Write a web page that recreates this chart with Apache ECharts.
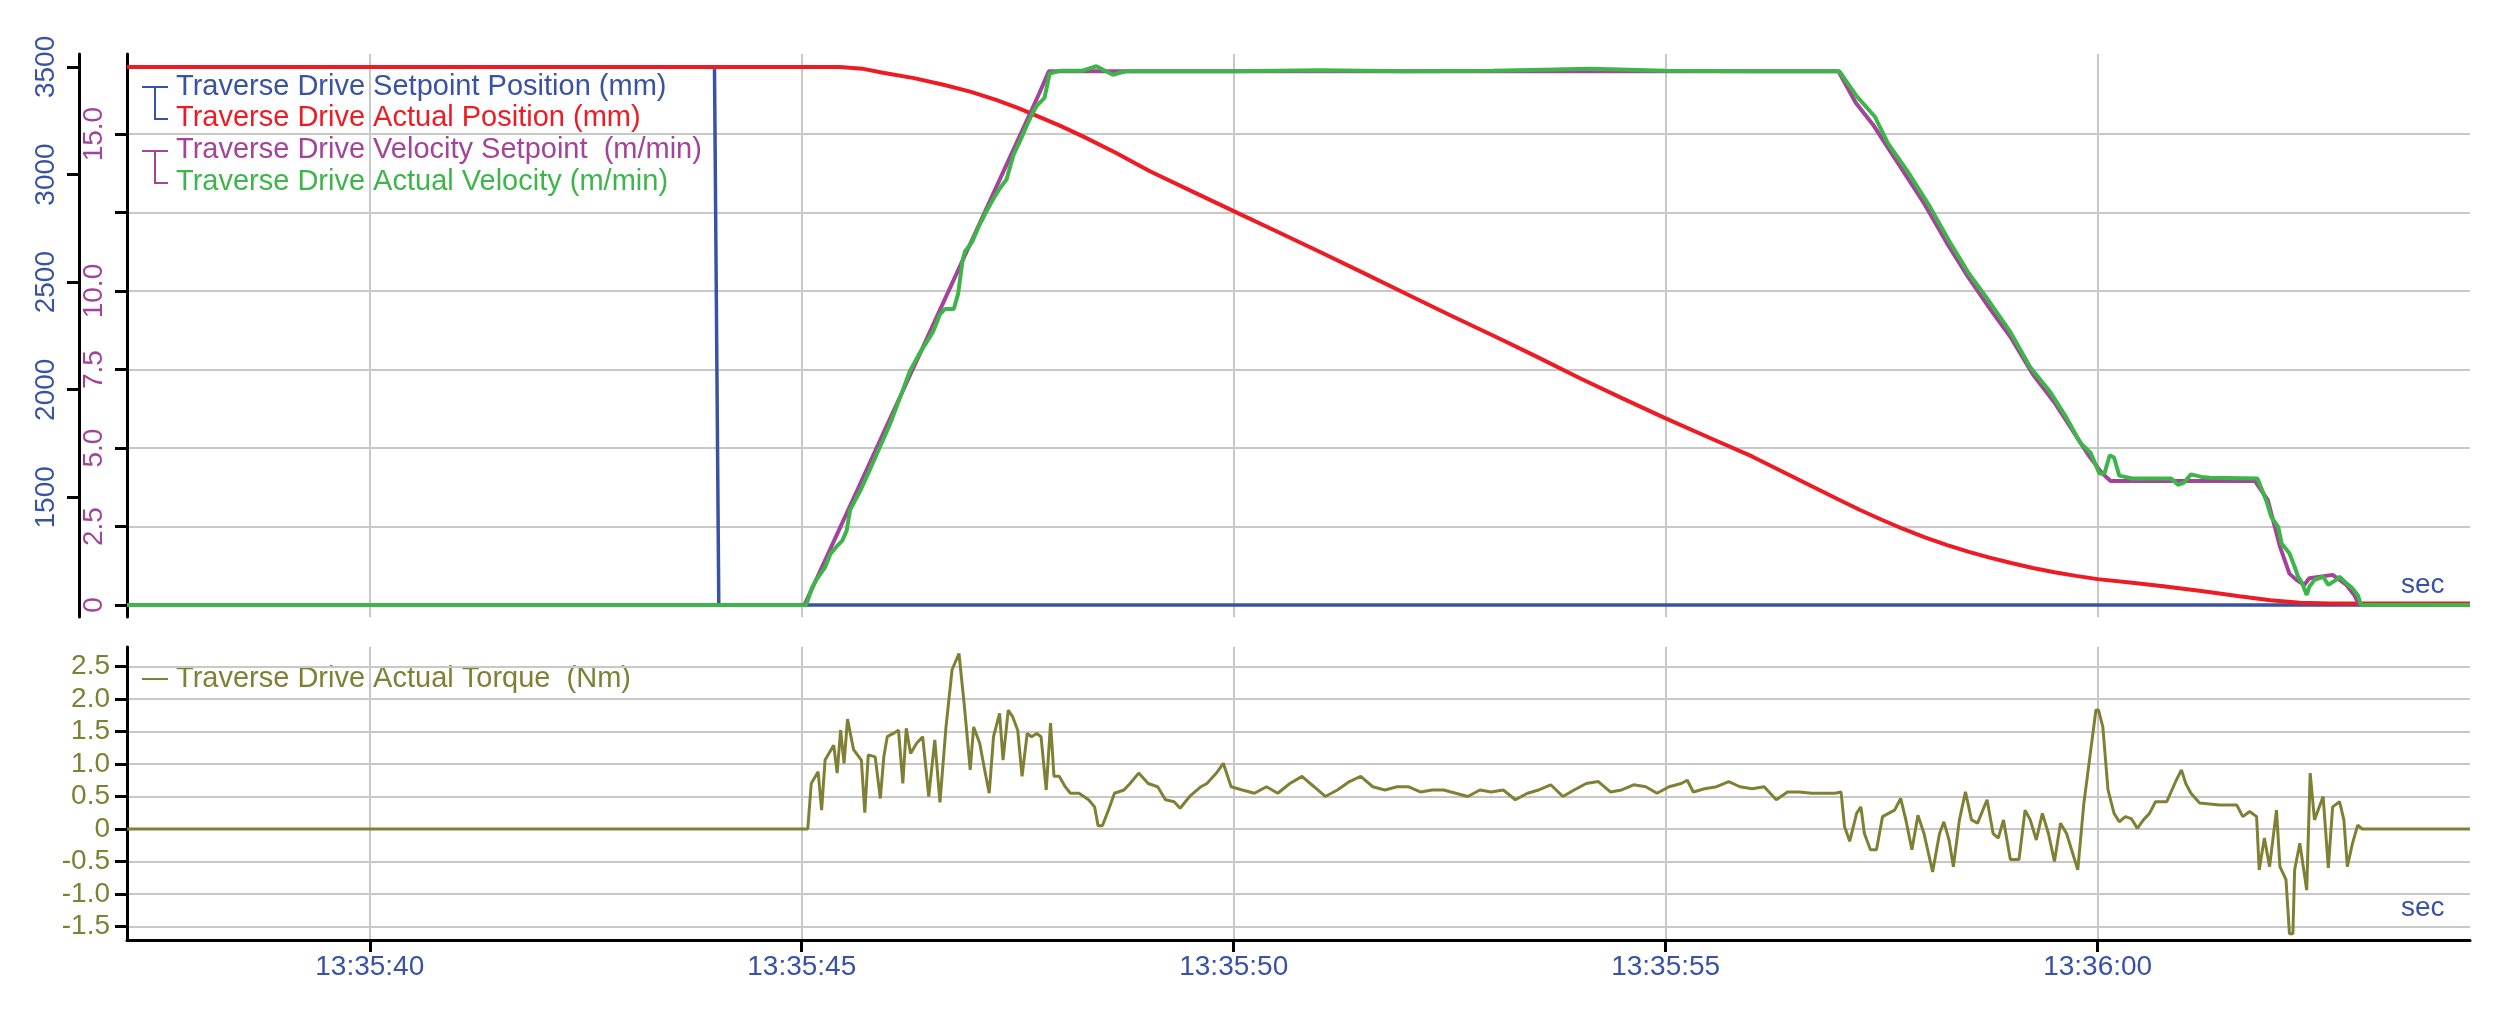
<!DOCTYPE html>
<html>
<head>
<meta charset="utf-8">
<script src="https://cdn.jsdelivr.net/npm/echarts@6/dist/echarts.min.js"></script>
<style>
html,body{margin:0;padding:0;background:#ffffff;}
#chart{width:2509px;height:1013px;}
</style>
</head>
<body>
<div id="chart"></div>
<script>
// ---------- axis ticks / labels ----------
const xTickValues = [40, 45, 50, 55, 60];
const xTickLabels = ['13:35:40', '13:35:45', '13:35:50', '13:35:55', '13:36:00'];
const velTickValues = [0, 2.5, 5, 7.5, 10, 12.5, 15];
const velLabelValues = [0, 2.5, 5, 7.5, 10, 15];
const posTickValues = [1500, 2000, 2500, 3000, 3500];
const torqueTickValues = [-1.5, -1, -0.5, 0, 0.5, 1, 1.5, 2, 2.5];

// ---------- series names ----------
const seriesNames = [
  'Traverse Drive Setpoint Position (mm)',
  'Traverse Drive Actual Position (mm)',
  'Traverse Drive Velocity Setpoint  (m/min)',
  'Traverse Drive Actual Velocity (m/min)',
  'Traverse Drive Actual Torque  (Nm)'
];

// ---------- data (time in seconds after 13:35:00) ----------
const setpointPosTime  = [37.19, 43.99, 44.04, 64.31];
const setpointPosValue = [3500, 3500, 1000, 1000];

const actualPosTime  = [37.19, 45.44, 45.7, 45.94, 46.3, 46.64, 46.95, 47.25, 47.5, 47.79, 48.0, 48.26, 48.64, 49.03, 49.5, 50.0, 50.5, 51.0, 51.5, 52.0, 52.5, 53.08, 53.5, 54.02, 54.5, 55.0, 55.5, 56.0, 56.5, 57.0, 57.25, 57.5, 57.75, 58.0, 58.25, 58.5, 58.75, 59.0, 59.25, 59.5, 59.75, 60.0, 60.4, 60.76, 61.2, 61.64, 62.0, 62.34, 62.7, 64.31];
const actualPosValue = [3500, 3500, 3492, 3473, 3448, 3417, 3385, 3347, 3310, 3261, 3225, 3176, 3100, 3015, 2925, 2830, 2735, 2640, 2543, 2445, 2347, 2237, 2155, 2051, 1960, 1867, 1778, 1690, 1590, 1490, 1441, 1396, 1353, 1314, 1279, 1248, 1220, 1195, 1172, 1152, 1135, 1120, 1103, 1087, 1065, 1040, 1022, 1010, 1007, 1007];

const velSetTime  = [37.19, 45.03, 45.2, 45.4, 45.6, 45.8, 46.0, 46.2, 46.4, 46.6, 46.8, 47.0, 47.2, 47.4, 47.6, 47.75, 47.86, 57.0, 57.2, 57.4, 57.6, 57.8, 58.0, 58.25, 58.5, 58.75, 59.0, 59.25, 59.5, 59.7, 59.9, 60.05, 60.15, 61.82, 61.97, 62.11, 62.22, 62.3, 62.39, 62.45, 62.72, 62.88, 62.97, 63.03, 64.31];
const velSetValue = [0, 0, 1.0, 2.2, 3.4, 4.6, 5.8, 7.0, 8.2, 9.4, 10.6, 11.8, 13.0, 14.2, 15.4, 16.3, 17.0, 17.0, 16.0, 15.3, 14.45, 13.6, 12.75, 11.55, 10.45, 9.45, 8.5, 7.35, 6.45, 5.6, 4.75, 4.2, 3.95, 3.95, 3.34, 1.86, 1.0, 0.8, 0.64, 0.85, 0.96, 0.64, 0.32, 0, 0];

const velActTime  = [37.19, 45.05, 45.12, 45.17, 45.27, 45.33, 45.4, 45.47, 45.52, 45.56, 45.68, 45.79, 45.9, 46.02, 46.13, 46.25, 46.35, 46.44, 46.52, 46.6, 46.66, 46.76, 46.81, 46.86, 46.89, 46.97, 47.06, 47.14, 47.21, 47.3, 47.37, 47.45, 47.53, 47.6, 47.66, 47.72, 47.81, 47.87, 48.0, 48.25, 48.41, 48.6, 48.75, 49.0, 50.0, 51.0, 52.0, 53.0, 54.14, 55.0, 56.0, 57.01, 57.21, 57.42, 57.57, 57.8, 58.04, 58.28, 58.51, 58.75, 58.98, 59.22, 59.45, 59.63, 59.8, 59.92, 60.02, 60.08, 60.14, 60.19, 60.25, 60.4, 60.85, 60.93, 61.0, 61.08, 61.2, 61.3, 61.85, 61.95, 62.01, 62.09, 62.13, 62.22, 62.28, 62.32, 62.36, 62.42, 62.45, 62.51, 62.61, 62.67, 62.76, 62.8, 62.88, 62.95, 63.01, 63.05, 64.31];
const velActValue = [0, 0, 0.55, 0.81, 1.2, 1.62, 1.85, 2.05, 2.37, 3.03, 3.65, 4.32, 5.0, 5.75, 6.55, 7.44, 7.95, 8.35, 8.7, 9.26, 9.43, 9.43, 9.91, 10.95, 11.27, 11.55, 12.12, 12.55, 12.9, 13.3, 13.55, 14.33, 14.8, 15.24, 15.6, 15.9, 16.15, 16.93, 17.02, 17.02, 17.16, 16.89, 17.0, 17.0, 17.0, 17.03, 17.0, 17.02, 17.08, 17.02, 17.0, 17.0, 16.21, 15.56, 14.72, 13.81, 12.77, 11.6, 10.56, 9.65, 8.74, 7.57, 6.79, 6.01, 5.16, 4.84, 4.19, 4.2, 4.77, 4.7, 4.12, 4.03, 4.03, 3.83, 3.9, 4.16, 4.08, 4.05, 4.03, 3.34, 2.81, 2.49, 1.96, 1.65, 1.22, 0.9, 0.74, 0.32, 0.58, 0.8, 0.9, 0.64, 0.8, 0.9, 0.69, 0.53, 0.32, 0, 0];

const torqueTime = [37.19, 45.07, 45.11, 45.19, 45.23, 45.27, 45.37, 45.41, 45.45, 45.49, 45.53, 45.6, 45.69, 45.73, 45.77, 45.85, 45.91, 45.95, 45.99, 46.06, 46.12, 46.17, 46.21, 46.26, 46.33, 46.4, 46.47, 46.54, 46.6, 46.67, 46.74, 46.82, 46.88, 46.95, 46.99, 47.06, 47.11, 47.17, 47.22, 47.29, 47.33, 47.39, 47.44, 47.5, 47.55, 47.61, 47.66, 47.72, 47.77, 47.83, 47.88, 47.92, 47.98, 48.05, 48.11, 48.21, 48.32, 48.39, 48.43, 48.48, 48.55, 48.62, 48.73, 48.8, 48.9, 49.01, 49.12, 49.21, 49.31, 49.38, 49.49, 49.62, 49.69, 49.8, 49.88, 49.97, 50.1, 50.24, 50.38, 50.51, 50.65, 50.79, 50.93, 51.06, 51.2, 51.34, 51.47, 51.61, 51.75, 51.89, 52.02, 52.16, 52.3, 52.43, 52.57, 52.71, 52.85, 52.98, 53.12, 53.26, 53.4, 53.53, 53.67, 53.81, 53.94, 54.08, 54.22, 54.36, 54.49, 54.63, 54.77, 54.9, 55.04, 55.18, 55.25, 55.32, 55.45, 55.59, 55.73, 55.86, 56.0, 56.14, 56.28, 56.41, 56.55, 56.69, 56.82, 56.96, 57.03, 57.07, 57.13, 57.21, 57.26, 57.3, 57.37, 57.44, 57.51, 57.58, 57.65, 57.72, 57.78, 57.85, 57.92, 57.99, 58.09, 58.17, 58.22, 58.28, 58.33, 58.4, 58.47, 58.54, 58.61, 58.72, 58.79, 58.85, 58.91, 58.99, 59.09, 59.16, 59.22, 59.29, 59.36, 59.43, 59.5, 59.57, 59.64, 59.71, 59.77, 59.84, 59.91, 59.98, 60.01, 60.06, 60.12, 60.19, 60.25, 60.32, 60.39, 60.46, 60.53, 60.6, 60.67, 60.8, 60.91, 60.97, 61.02, 61.08, 61.18, 61.41, 61.61, 61.68, 61.76, 61.84, 61.87, 61.93, 61.99, 62.07, 62.11, 62.18, 62.22, 62.26, 62.28, 62.34, 62.42, 62.46, 62.51, 62.61, 62.67, 62.72, 62.8, 62.85, 62.89, 62.95, 63.01, 63.06, 64.31];
const torqueValue = [0, 0, 0.7, 0.88, 0.29, 1.06, 1.29, 0.86, 1.52, 1.01, 1.69, 1.22, 1.06, 0.25, 1.14, 1.11, 0.47, 1.11, 1.42, 1.47, 1.52, 0.7, 1.55, 1.16, 1.32, 1.42, 0.5, 1.37, 0.41, 1.57, 2.45, 2.7, 1.93, 0.91, 1.57, 1.32, 0.96, 0.55, 1.42, 1.78, 1.06, 1.83, 1.73, 1.52, 0.81, 1.47, 1.42, 1.47, 1.42, 0.6, 1.63, 0.81, 0.81, 0.65, 0.55, 0.55, 0.45, 0.34, 0.05, 0.05, 0.29, 0.55, 0.6, 0.7, 0.86, 0.7, 0.65, 0.45, 0.42, 0.32, 0.5, 0.65, 0.7, 0.86, 1.01, 0.65, 0.6, 0.55, 0.65, 0.55, 0.7, 0.81, 0.65, 0.5, 0.6, 0.73, 0.81, 0.65, 0.6, 0.65, 0.65, 0.57, 0.6, 0.6, 0.55, 0.5, 0.6, 0.57, 0.6, 0.45, 0.55, 0.6, 0.68, 0.5, 0.6, 0.7, 0.73, 0.57, 0.6, 0.68, 0.65, 0.55, 0.65, 0.7, 0.75, 0.57, 0.62, 0.65, 0.73, 0.65, 0.62, 0.65, 0.45, 0.57, 0.57, 0.55, 0.55, 0.55, 0.57, 0.04, -0.19, 0.24, 0.34, -0.07, -0.32, -0.32, 0.19, 0.24, 0.29, 0.47, 0.14, -0.32, 0.21, -0.07, -0.66, -0.07, 0.11, -0.17, -0.58, 0.14, 0.57, 0.14, 0.09, 0.45, -0.07, -0.14, 0.14, -0.47, -0.47, 0.29, 0.14, -0.17, 0.24, -0.07, -0.5, 0.09, -0.07, -0.37, -0.63, 0.39, 1.11, 1.83, 1.83, 1.57, 0.6, 0.24, 0.11, 0.19, 0.16, 0.01, 0.14, 0.24, 0.42, 0.42, 0.75, 0.91, 0.7, 0.55, 0.4, 0.37, 0.37, 0.19, 0.27, 0.19, -0.63, -0.14, -0.58, 0.29, -0.58, -0.78, -1.61, -1.61, -0.63, -0.22, -0.94, 0.86, 0.14, 0.5, -0.6, 0.34, 0.42, 0.14, -0.58, -0.22, 0.06, 0, 0];

// ---------- styling ----------
const BLUE = '#3953a4', RED = '#ed1c24', PURPLE = '#a3449a', GREEN = '#3db54a', OLIVE = '#808035';
const GRIDC = '#c8c8c8', BLACK = '#000000';
const FONT = '"Liberation Sans", Arial, sans-serif';
const FS = 28;
const LEGFS = 29;

function zip(t, v) { return t.map((x, i) => [x, v[i]]); }
function fmt1(v) { return v === 0 ? '0' : v.toFixed(1); }

const chart = echarts.init(document.getElementById('chart'), null, { renderer: 'canvas' });

const baseX = {
  type: 'value', min: 37.19, max: 64.31,
  axisTick: { customValues: xTickValues },
  axisLabel: { customValues: xTickValues },
  splitLine: { show: true, lineStyle: { color: GRIDC, width: 2 } }
};

const option = {
  animation: false,
  backgroundColor: '#ffffff',
  grid: [
    { left: 127, top: 54, width: 2343, height: 563, containLabel: false, outerBoundsMode: 'none' },
    { left: 127, top: 647, width: 2343, height: 293, containLabel: false, outerBoundsMode: 'none' }
  ],
  xAxis: [
    Object.assign({}, baseX, {
      gridIndex: 0,
      axisLine: { show: false },
      axisTick: { show: false, customValues: xTickValues },
      axisLabel: { show: false, customValues: xTickValues }
    }),
    Object.assign({}, baseX, {
      gridIndex: 1, position: 'bottom',
      axisLine: { show: true, onZero: false, lineStyle: { color: BLACK, width: 3 } },
      axisTick: { show: true, customValues: xTickValues, inside: false, length: 12, lineStyle: { color: BLACK, width: 3 } },
      axisLabel: {
        show: true, customValues: xTickValues, margin: 13,
        color: BLUE, fontSize: FS, fontFamily: FONT,
        formatter: v => xTickLabels[xTickValues.indexOf(Math.round(v))]
      }
    })
  ],
  yAxis: [
    { // velocity (inner)
      type: 'value', gridIndex: 0, position: 'left', offset: 0,
      min: -0.382, max: 17.55,
      axisLine: { show: true, onZero: false, lineStyle: { color: BLACK, width: 3 } },
      axisTick: { show: true, customValues: velTickValues, length: 12, lineStyle: { color: BLACK, width: 3 } },
      axisLabel: { show: true, customValues: velLabelValues, rotate: 90, margin: 19, color: PURPLE, fontSize: FS, fontFamily: FONT, formatter: fmt1 },
      splitLine: { show: true, lineStyle: { color: GRIDC, width: 2 } }
    },
    { // position (outer)
      type: 'value', gridIndex: 0, position: 'left', offset: 48,
      min: 944, max: 3560,
      axisLine: { show: true, onZero: false, lineStyle: { color: BLACK, width: 3 } },
      axisTick: { show: true, customValues: posTickValues, length: 12, lineStyle: { color: BLACK, width: 3 } },
      axisLabel: { show: true, customValues: posTickValues, rotate: 90, margin: 19, color: BLUE, fontSize: FS, fontFamily: FONT, formatter: v => String(Math.round(v)) },
      splitLine: { show: false }
    },
    { // torque
      type: 'value', gridIndex: 1, position: 'left',
      min: -1.708, max: 2.8,
      axisLine: { show: true, onZero: false, lineStyle: { color: BLACK, width: 3 } },
      axisTick: { show: true, customValues: torqueTickValues, length: 12, lineStyle: { color: BLACK, width: 3 } },
      axisLabel: { show: true, customValues: torqueTickValues, margin: 17, color: OLIVE, fontSize: FS, fontFamily: FONT, formatter: fmt1 },
      splitLine: { show: true, lineStyle: { color: GRIDC, width: 2 } }
    }
  ],
  series: [
    { name: seriesNames[0], type: 'line', xAxisIndex: 0, yAxisIndex: 1, data: zip(setpointPosTime, setpointPosValue), showSymbol: false, lineStyle: { color: BLUE, width: 3.5 }, itemStyle: { color: BLUE } },
    { name: seriesNames[1], type: 'line', xAxisIndex: 0, yAxisIndex: 1, data: zip(actualPosTime, actualPosValue), showSymbol: false, lineStyle: { color: RED, width: 4 }, itemStyle: { color: RED } },
    { name: seriesNames[2], type: 'line', xAxisIndex: 0, yAxisIndex: 0, data: zip(velSetTime, velSetValue), showSymbol: false, lineStyle: { color: PURPLE, width: 4 }, itemStyle: { color: PURPLE } },
    { name: seriesNames[3], type: 'line', xAxisIndex: 0, yAxisIndex: 0, data: zip(velActTime, velActValue), showSymbol: false, lineStyle: { color: GREEN, width: 4 }, itemStyle: { color: GREEN } },
    { name: seriesNames[4], type: 'line', xAxisIndex: 1, yAxisIndex: 2, data: zip(torqueTime, torqueValue), showSymbol: false, lineStyle: { color: OLIVE, width: 3 }, itemStyle: { color: OLIVE } }
  ],
  graphic: [
    { type: 'polyline', shape: { points: [[142, 87], [168, 87]] }, style: { stroke: BLUE, lineWidth: 2, fill: null } },
    { type: 'polyline', shape: { points: [[155, 87], [155, 119], [168, 119]] }, style: { stroke: BLUE, lineWidth: 2, fill: null } },
    { type: 'polyline', shape: { points: [[142, 151], [168, 151]] }, style: { stroke: PURPLE, lineWidth: 2, fill: null } },
    { type: 'polyline', shape: { points: [[155, 151], [155, 183], [168, 183]] }, style: { stroke: PURPLE, lineWidth: 2, fill: null } },
    { type: 'polyline', shape: { points: [[142, 679], [168, 679]] }, style: { stroke: OLIVE, lineWidth: 2, fill: null } },
    { type: 'text', x: 176, y: 87, style: { text: seriesNames[0], fill: BLUE, font: LEGFS + 'px ' + FONT, verticalAlign: 'middle', align: 'left' } },
    { type: 'text', x: 176, y: 118, style: { text: seriesNames[1], fill: RED, font: LEGFS + 'px ' + FONT, verticalAlign: 'middle', align: 'left' } },
    { type: 'text', x: 176, y: 150, style: { text: seriesNames[2], fill: PURPLE, font: LEGFS + 'px ' + FONT, verticalAlign: 'middle', align: 'left' } },
    { type: 'text', x: 176, y: 182, style: { text: seriesNames[3], fill: GREEN, font: LEGFS + 'px ' + FONT, verticalAlign: 'middle', align: 'left' } },
    { type: 'text', x: 176, y: 679, style: { text: seriesNames[4], fill: OLIVE, font: LEGFS + 'px ' + FONT, verticalAlign: 'middle', align: 'left' } },
    { type: 'text', x: 2401, y: 585, style: { text: 'sec', fill: BLUE, font: FS + 'px ' + FONT, verticalAlign: 'middle', align: 'left' } },
    { type: 'text', x: 2401, y: 908, style: { text: 'sec', fill: BLUE, font: FS + 'px ' + FONT, verticalAlign: 'middle', align: 'left' } }
  ]
};

chart.setOption(option);
</script>
</body>
</html>
